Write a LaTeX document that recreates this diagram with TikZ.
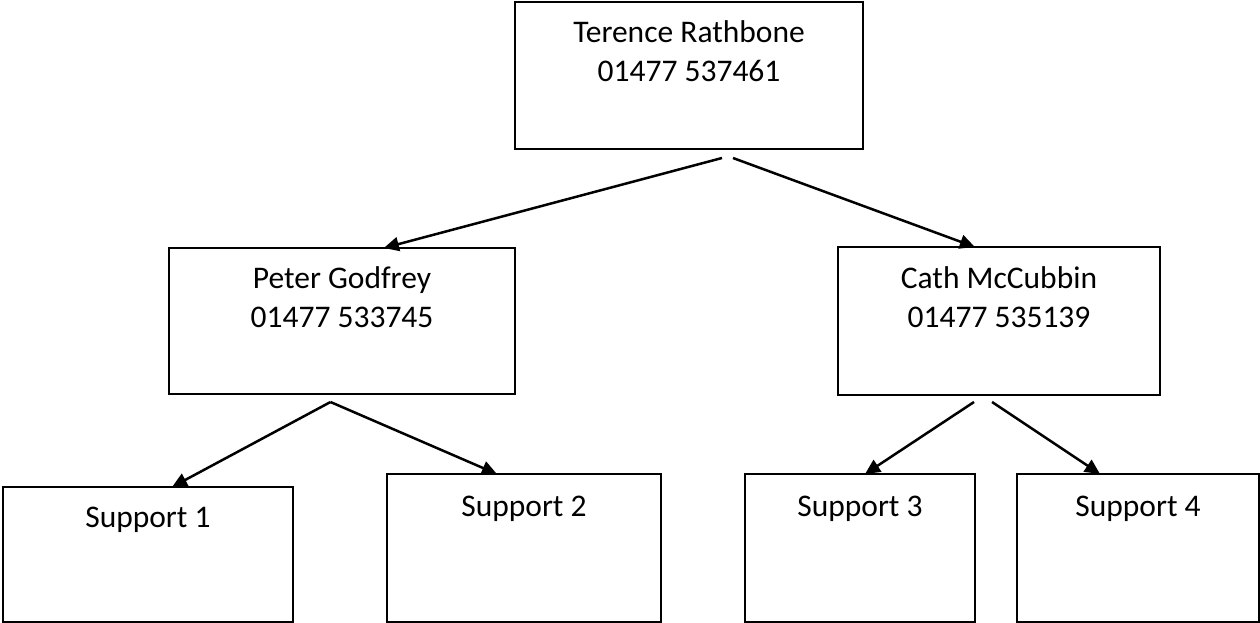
\documentclass[tikz,border=0pt]{standalone}
\usepackage{fontspec}
\setmainfont{Carlito}
\usetikzlibrary{arrows.meta,calc}
\begin{document}
\begin{tikzpicture}[x=1pt,y=-1pt,
  box/.style={draw=black,line width=2pt,rectangle,inner sep=0pt,outer sep=0pt},
  lbl/.style={anchor=base,inner sep=0pt,font=\fontsize{31.5}{38}\selectfont},
  conn/.style={draw=black,line width=2.5pt,-{Triangle[length=15pt,width=14pt]}}]
\fill[white] (0,0) rectangle (1260,623);
\useasboundingbox (0,0) rectangle (1260,623);
% boxes
\node[box,minimum width=348pt,minimum height=147pt] (tr) at (689,75.5) {};
\node[box,minimum width=346pt,minimum height=146pt] (pg) at (342,321) {};
\node[box,minimum width=322pt,minimum height=148pt] (cm) at (999,321) {};
\node[box,minimum width=290pt,minimum height=135pt] (s1) at (148,554.5) {};
\node[box,minimum width=274pt,minimum height=148pt] (s2) at (524,548) {};
\node[box,minimum width=230pt,minimum height=148pt] (s3) at (860,548) {};
\node[box,minimum width=242pt,minimum height=148pt] (s4) at (1138,548) {};
% texts
\node[lbl] (tr-n) at (689,43) {Terence Rathbone};
\node[lbl] (tr-p) at (689,82) {01477 537461};
\node[lbl] (pg-n) at (342,288) {Peter Godfrey};
\node[lbl] (pg-p) at (342,327) {01477 533745};
\node[lbl] (cm-n) at (999,288) {Cath McCubbin};
\node[lbl] (cm-p) at (999,327) {01477 535139};
\node[lbl] (s1-n) at (148,527) {Support 1};
\node[lbl] (s2-n) at (524,516) {Support 2};
\node[lbl] (s3-n) at (860,516) {Support 3};
\node[lbl] (s4-n) at (1138,516) {Support 4};
% connector start points
\coordinate (tr-a) at (722,158);
\coordinate (tr-b) at (733,158);
\coordinate (pg-a) at (330.5,402);
\coordinate (cm-a) at (974,402);
\coordinate (cm-b) at (992,402);
% connectors
\draw[conn] (tr-a) -- ($(pg.north west)!0.621!(pg.north east)$);
\draw[conn] (tr-b) -- ($(cm.north west)!0.425!(cm.north east)$);
\draw[conn] (pg-a) -- ($(s1.north west)!0.583!(s1.north east)$);
\draw[conn] (pg-a) -- ($(s2.north west)!0.401!(s2.north east)$);
\draw[conn] (cm-a) -- ($(s3.north west)!0.522!(s3.north east)$);
\draw[conn] (cm-b) -- ($(s4.north west)!0.343!(s4.north east)$);
\end{tikzpicture}
\end{document}
